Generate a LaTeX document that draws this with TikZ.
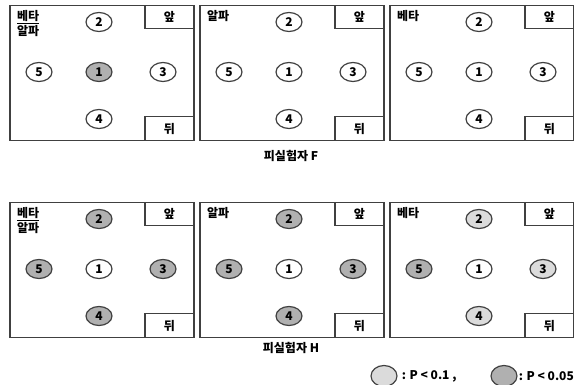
\documentclass[tikz,border=0pt]{standalone}
\usepackage{fontspec}
\setmainfont{Noto Sans CJK KR}
\usetikzlibrary{shapes.geometric, positioning, calc}
\tikzset{
  roombox/.style={
    draw=black!75, line width=1.5pt, anchor=north west, inner sep=0pt,
    minimum width=184pt, minimum height=135pt
  },
  tagbox/.style={
    draw=black!75, line width=1.2pt, inner sep=0pt,
    minimum width=49pt, minimum height=23pt,
    font=\bfseries\fontsize{12}{14}\selectfont
  },
  seat/.style={
    ellipse, draw=black!75, line width=1.2pt, inner sep=0pt,
    minimum width=26pt, minimum height=19pt,
    font=\bfseries\fontsize{12}{14}\selectfont
  },
  seatplain/.style={seat, fill=white},
  seatlight/.style={seat, fill=gray!28},
  seatdark/.style={seat, fill=gray!62},
  bandlabel/.style={
    anchor=north west, align=left, inner sep=0pt,
    font=\bfseries\fontsize{12}{15}\selectfont
  },
  subjlabel/.style={font=\bfseries\fontsize{12}{14}\selectfont},
  keylabel/.style={font=\bfseries\fontsize{12}{14}\selectfont, inner sep=1pt},
}

\begin{document}
\begin{tikzpicture}[x=1pt, y=-1pt]
  \useasboundingbox (0,0) rectangle (574,385);

  % six rooms: name / corner / band / seats 1..5
  \foreach \pn/\px/\py/\band/\sa/\sb/\sc/\sd/\se in {
    fa/9/5/{\underline{베타}\\알파}/seatdark/seatplain/seatplain/seatplain/seatplain,
    fb/199/5/{알파}/seatplain/seatplain/seatplain/seatplain/seatplain,
    fc/389/5/{베타}/seatplain/seatplain/seatplain/seatplain/seatplain,
    ha/9/202/{\underline{베타}\\알파}/seatplain/seatdark/seatdark/seatdark/seatdark,
    hb/199/202/{알파}/seatplain/seatdark/seatdark/seatdark/seatdark,
    hc/389/202/{베타}/seatplain/seatlight/seatlight/seatlight/seatdark} {
    \node[roombox] (\pn-room) at (\px,\py) {};
    \node[tagbox, anchor=north east] (\pn-front) at (\pn-room.north east) {앞};
    \node[tagbox, anchor=south east, minimum height=24pt] (\pn-back) at (\pn-room.south east) {뒤};
    \node[bandlabel] (\pn-band) at ($(\pn-room.north west)+(8,5)$) {\band};
    \node[\sa] (\pn-s1) at ($(\pn-room.north west)+(90,67)$) {1};
    \node[\sb] (\pn-s2) at ($(\pn-room.north west)+(90,17)$) {2};
    \node[\sc] (\pn-s3) at ($(\pn-room.north west)+(154,67)$) {3};
    \node[\sd] (\pn-s4) at ($(\pn-room.north west)+(90,114)$) {4};
    \node[\se] (\pn-s5) at ($(\pn-room.north west)+(30,67)$) {5};
  }

  \node[subjlabel] (subjF) at (291,156) {피실험자 F};
  \node[subjlabel] (subjH) at (291,348) {피실험자 H};

  % legend
  \node[seatlight, minimum height=21pt] (keylight) at (384,376) {};
  \node[keylabel, anchor=west, right=3pt of keylight] (keylighttxt) {: P < 0.1 ,};
  \node[seatdark, minimum height=21pt] (keydark) at (504,376) {};
  \node[keylabel, anchor=west, right=0pt of keydark] (keydarktxt) {: P < 0.05};
\end{tikzpicture}
\end{document}
